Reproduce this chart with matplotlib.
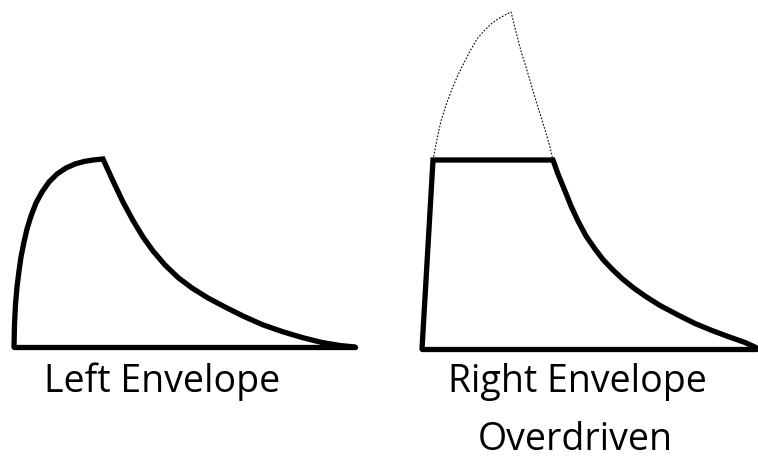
import matplotlib
matplotlib.use("Agg")
import matplotlib.pyplot as plt

# Envelope samples in picture units (x = time, y = vertical position, down is larger)
left_x = [14, 14.5, 15.5, 17, 19, 21, 24, 27, 31, 36, 42, 49, 57, 66, 75, 84, 93, 103,
          113, 123, 133, 143, 153, 165, 178, 192, 208, 225, 243, 262, 282, 302, 322, 340, 355]
left_y = [348, 325, 305, 288, 272, 258, 243, 230, 217, 204, 193, 183, 175, 169, 165, 162.5, 161, 160,
          182, 203, 221.5, 238, 252, 266, 278.5, 289, 299, 308, 317, 325.5, 332.5, 338.5, 343.5, 346.5, 348]
left_base_x = [14, 355]
left_base_y = [348, 348]

right_x = [422, 433, 553, 558, 565, 571, 578, 586, 595, 603, 612, 622, 633, 645, 660, 678, 695, 712, 728, 745, 756]
right_y = [350, 161, 161, 175, 192, 207, 222, 237, 250, 260.5, 270, 279.5, 288.5, 297, 306.5, 316, 324.5, 331.5, 337.5, 343.5, 348.5]
right_base_x = [422, 756]
right_base_y = [350, 350]

over_x = [433, 437, 441, 446, 452, 458, 464, 470, 477, 484, 491, 498, 505, 511,
          516, 521, 526, 531, 536, 541, 546, 550, 553]
over_y = [161, 140, 122, 106, 90, 76, 64, 52, 40, 32, 25, 20, 16, 13,
          33, 52, 68, 85, 102, 118, 134, 148, 161]

labels = ["Left Envelope", "Right Envelope", "Overdriven"]
label_x = [162, 577, 575]
label_y = [392, 392, 450]

fig = plt.figure(figsize=(7.58, 4.60), dpi=100)
ax = fig.add_axes([0, 0, 1, 1])
ax.set_xlim(0, 758)
ax.set_ylim(460, 0)
ax.axis("off")

lw = 3.8
ax.plot(left_x, left_y, color="black", lw=lw, solid_joinstyle="miter", solid_capstyle="round")
ax.plot(left_base_x, left_base_y, color="black", lw=lw, solid_capstyle="round")
ax.plot(right_x, right_y, color="black", lw=lw, solid_joinstyle="miter", solid_capstyle="round")
ax.plot(right_base_x, right_base_y, color="black", lw=lw, solid_capstyle="round")
ax.plot(over_x, over_y, color="black", lw=0.8, linestyle=(0, (1.5, 1.5)))

for t, x, y in zip(labels, label_x, label_y):
    ax.text(x, y, t, ha="center", va="baseline", fontsize=27, family="Open Sans", color="black")

fig.savefig("out.png", dpi=100)
